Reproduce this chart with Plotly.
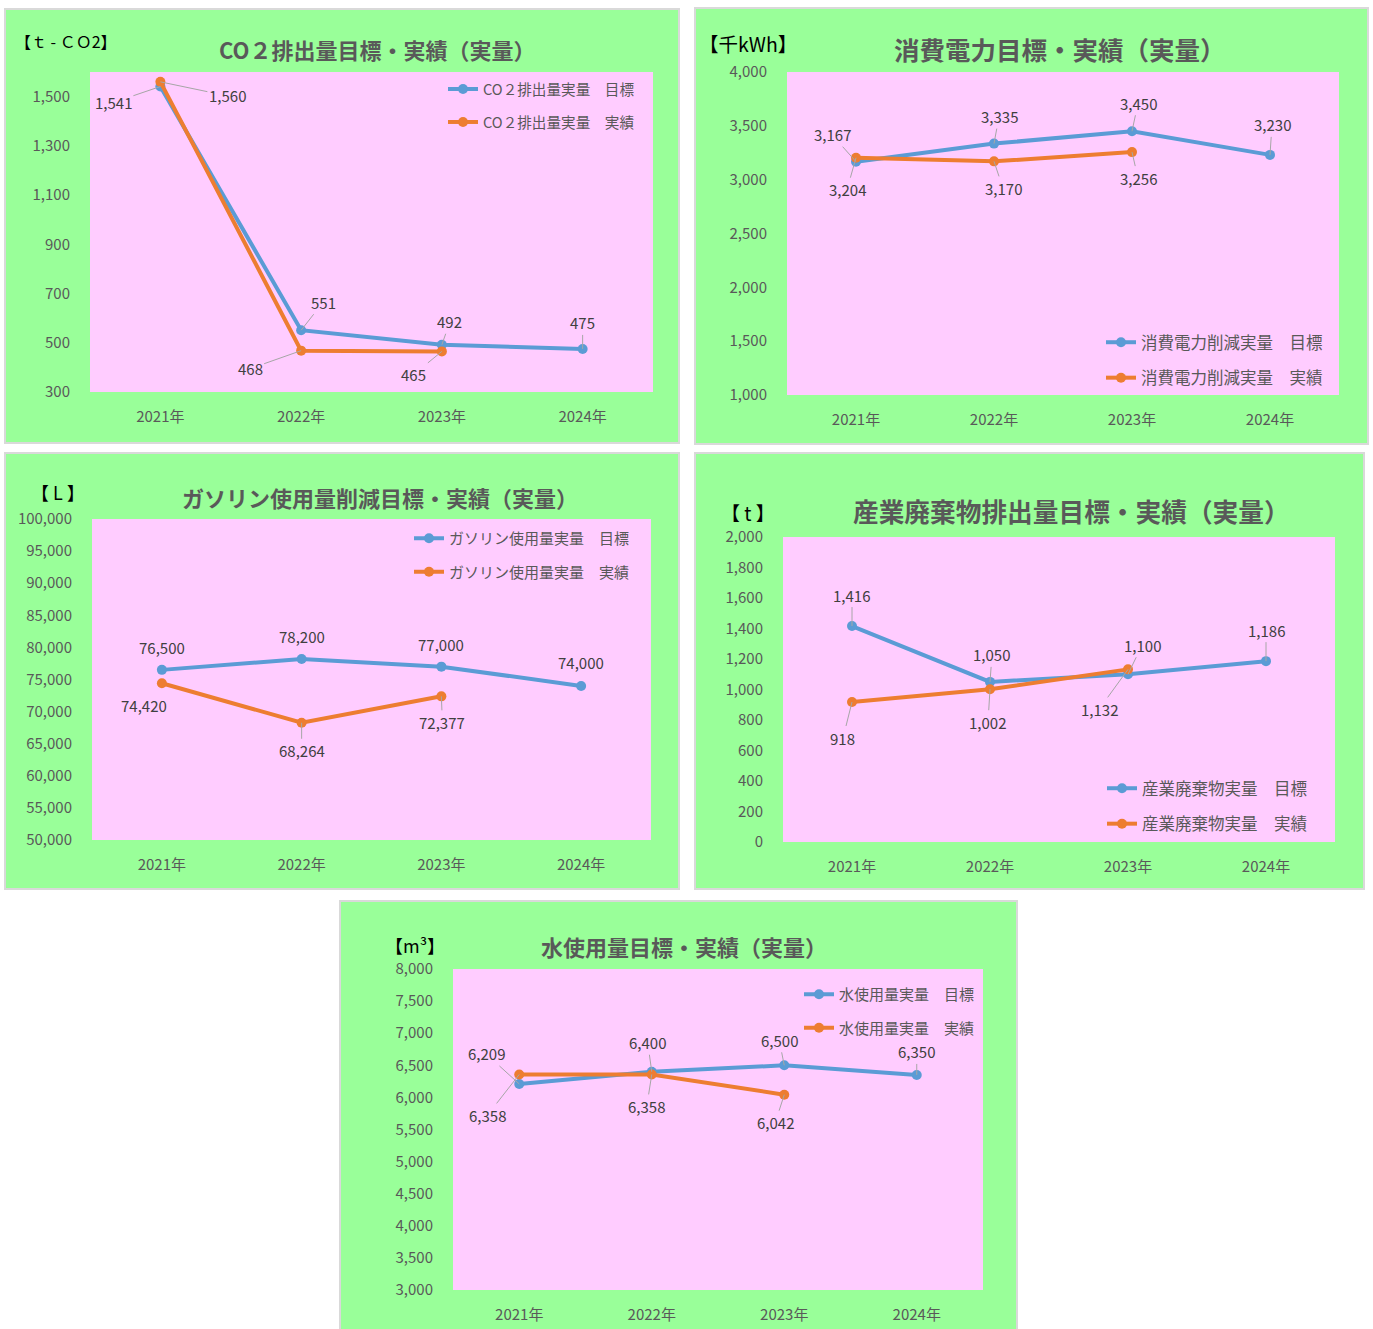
import plotly.graph_objects as go

W, H = 1373, 1329

# ---------------- data ----------------
years = ["2021年", "2022年", "2023年", "2024年"]
years_actual = ["2021年", "2022年", "2023年"]

co2_target = [1541, 551, 492, 475]
co2_actual = [1560, 468, 465]

elec_target = [3167, 3335, 3450, 3230]
elec_actual = [3204, 3170, 3256]

gas_target = [76500, 78200, 77000, 74000]
gas_actual = [74420, 68264, 72377]

waste_target = [1416, 1050, 1100, 1186]
waste_actual = [918, 1002, 1132]

water_target = [6209, 6400, 6500, 6350]
water_actual = [6358, 6358, 6042]

titles = ["CO２排出量目標・実績（実量）", "消費電力目標・実績（実量）",
          "ガソリン使用量削減目標・実績（実量）", "産業廃棄物排出量目標・実績（実量）",
          "水使用量目標・実績（実量）"]
units = ["【ｔ - ＣＯ2】", "【千kWh】", "【 L 】", "【 t 】", "【m³】"]
names_target = ["CO２排出量実量　目標", "消費電力削減実量　目標", "ガソリン使用量実量　目標",
                "産業廃棄物実量　目標", "水使用量実量　目標"]
names_actual = ["CO２排出量実量　実績", "消費電力削減実量　実績", "ガソリン使用量実量　実績",
                "産業廃棄物実量　実績", "水使用量実量　実績"]

# ---------------- styles / layout ----------------
FONT = "Noto Sans CJK JP"
BLUE = "#5B9BD5"
ORANGE = "#ED7D31"
GREEN = "#99FF99"
PINK = "#FFCCFF"
GRAY = "#595959"
LBL = "#404040"

charts = [
    dict(target=co2_target, actual=co2_actual, yr=[300, 1600], ticks=(300, 1500, 200),
         box=(5, 9, 679, 443), plot=(90, 72, 653, 392),
         title_xy=(377, 49), title_size=22, unit_xy=(66, 41), unit_size=16,
         legend=dict(x=640, y=73, size=14.6),
         lt=[(-47, 16, True), (22, -28, True), (8, -23, True), (0, -26, True)],
         la=[(67, 14, True), (-51, 18, True), (-28, 23, True)]),
    dict(target=elec_target, actual=elec_actual, yr=[1000, 4000], ticks=(1000, 4000, 500),
         box=(695, 8, 1368, 444), plot=(787, 72, 1339, 395),
         title_xy=(1060, 48), title_size=25.5, unit_xy=(748, 44), unit_size=19.5,
         legend=dict(x=1328, y=325, size=16.5),
         lt=[(-24, -27, True), (5, -27, True), (6, -28, True), (2, -30, True)],
         la=[(-9, 32, True), (9, 27, True), (6, 26, True)]),
    dict(target=gas_target, actual=gas_actual, yr=[50000, 100000], ticks=(50000, 100000, 5000),
         box=(5, 453, 679, 889), plot=(92, 519, 651, 840),
         title_xy=(380, 497), title_size=22, unit_xy=(58, 492), unit_size=18,
         legend=dict(x=635, y=522, size=15),
         lt=[(0, -22, False), (0, -22, False), (0, -22, False), (0, -23, False)],
         la=[(-18, 22, False), (0, 28, True), (1, 26, True)]),
    dict(target=waste_target, actual=waste_actual, yr=[0, 2000], ticks=(0, 2000, 200),
         box=(695, 453, 1364, 889), plot=(783, 537, 1335, 842),
         title_xy=(1071, 510), title_size=25.7, unit_xy=(748, 512), unit_size=19,
         legend=dict(x=1312, y=771, size=16.5),
         lt=[(0, -31, True), (2, -27, True), (14, -29, True), (0, -31, True)],
         la=[(-9, 36, True), (-2, 33, True), (-29, 40, True)]),
    dict(target=water_target, actual=water_actual, yr=[3000, 8000], ticks=(3000, 8000, 500),
         box=(340, 901, 1017, 1335), plot=(453, 969, 983, 1290),
         title_xy=(684, 946), title_size=22, unit_xy=(415, 945), unit_size=18,
         legend=dict(x=980, y=978, size=15),
         lt=[(-33, -30, True), (-4, -29, True), (-5, -25, True), (0, -23, True)],
         la=[(-32, 41, True), (-5, 32, True), (-9, 28, True)]),
]


def px(x):
    return x / W


def py(y):
    return 1 - y / H


fig = go.Figure()
shapes = []
annotations = []
layout = {}

for i, c in enumerate(charts):
    k = i + 1
    xa = "x" if k == 1 else f"x{k}"
    ya = "y" if k == 1 else f"y{k}"
    lg = "legend" if k == 1 else f"legend{k}"
    bl, bt, br, bb = c["box"]
    pl, pt, pr, pb = c["plot"]

    # green box + pink plot area
    shapes.append(dict(type="rect", xref="paper", yref="paper", layer="below",
                       x0=px(bl), x1=px(br), y0=py(bb), y1=py(bt),
                       fillcolor=GREEN, line=dict(color="#D9D9D9", width=2)))
    shapes.append(dict(type="rect", xref="paper", yref="paper", layer="below",
                       x0=px(pl), x1=px(pr), y0=py(pb), y1=py(pt),
                       fillcolor=PINK, line=dict(width=0)))

    fig.add_trace(go.Scatter(x=years, y=c["target"], mode="lines+markers",
                             name=names_target[i], legend=lg, legendgroup=f"t{k}",
                             line=dict(color=BLUE, width=4),
                             marker=dict(color=BLUE, size=10),
                             xaxis=xa, yaxis=ya, cliponaxis=False))
    fig.add_trace(go.Scatter(x=years_actual, y=c["actual"], mode="lines+markers",
                             name=names_actual[i], legend=lg, legendgroup=f"a{k}",
                             line=dict(color=ORANGE, width=4),
                             marker=dict(color=ORANGE, size=10),
                             xaxis=xa, yaxis=ya, cliponaxis=False))

    t0, t1, ts = c["ticks"]
    layout["xaxis" if k == 1 else f"xaxis{k}"] = dict(
        domain=[px(pl), px(pr)], anchor=ya, type="category", range=[-0.5, 3.5],
        showgrid=False, zeroline=False, showline=False, automargin=False,
        ticks="outside", ticklen=11, tickcolor="rgba(0,0,0,0)",
        tickfont=dict(family=FONT, size=15, color=GRAY), fixedrange=True)
    layout["yaxis" if k == 1 else f"yaxis{k}"] = dict(
        domain=[py(pb), py(pt)], anchor=xa, range=c["yr"],
        tickvals=list(range(t0, t1 + 1, ts)), tickformat=",",
        showgrid=False, zeroline=False, showline=False, automargin=False,
        ticks="outside", ticklen=16, tickcolor="rgba(0,0,0,0)",
        tickfont=dict(family=FONT, size=15, color=GRAY), fixedrange=True)

    layout[lg] = dict(x=px(c["legend"]["x"]), y=py(c["legend"]["y"]),
                      xanchor="right", yanchor="top", bgcolor="rgba(0,0,0,0)",
                      font=dict(family=FONT, size=c["legend"]["size"], color=GRAY),
                      tracegroupgap=11, itemwidth=30)

    # title + unit
    annotations.append(dict(xref="paper", yref="paper", x=px(c["title_xy"][0]), y=py(c["title_xy"][1]),
                            text=f"<b>{titles[i]}</b>", showarrow=False,
                            xanchor="center", yanchor="middle",
                            font=dict(family=FONT, size=c["title_size"], color=GRAY)))
    annotations.append(dict(xref="paper", yref="paper", x=px(c["unit_xy"][0]), y=py(c["unit_xy"][1]),
                            text=units[i], showarrow=False, xanchor="center", yanchor="middle",
                            font=dict(family=FONT, size=c["unit_size"], color="#000000")))

    # data labels
    for xs, ys, offs in ((years, c["target"], c["lt"]), (years_actual, c["actual"], c["la"])):
        for xv, yv, (dx, dy, arrow) in zip(xs, ys, offs):
            a = dict(xref=xa, yref=ya, x=xv, y=yv, text=f"{yv:,}",
                     font=dict(family=FONT, size=15, color=LBL))
            if arrow:
                a.update(showarrow=True, ax=dx, ay=dy, arrowhead=0, arrowwidth=1,
                         arrowcolor="#A6A6A6", standoff=0)
            else:
                a.update(showarrow=False, xshift=dx, yshift=-dy)
            annotations.append(a)

fig.update_layout(width=W, height=H, margin=dict(l=0, r=0, t=0, b=0, pad=0, autoexpand=False),
                  paper_bgcolor="white", plot_bgcolor="rgba(0,0,0,0)",
                  shapes=shapes, annotations=annotations, showlegend=True,
                  **layout)

fig.write_html("out.html")
